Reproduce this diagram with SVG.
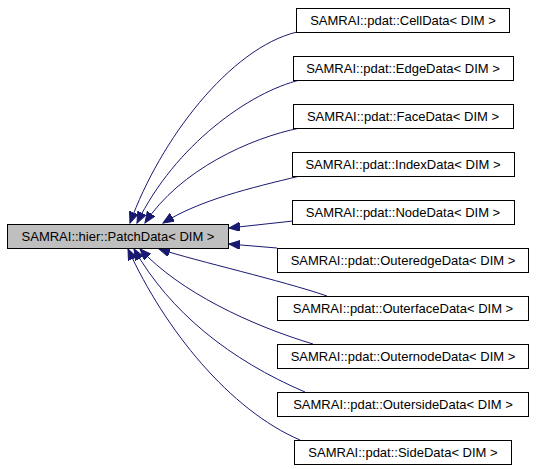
<svg xmlns="http://www.w3.org/2000/svg" width="536" height="469" viewBox="0 0 536 469">
<style>
.box{fill:#ffffff;stroke:#000000;stroke-width:1}
.main{fill:#bfbfbf;stroke:#000000;stroke-width:1}
text{font-family:"Liberation Sans",Arial,sans-serif;font-size:13px;fill:#000000;text-anchor:middle}
.edge{fill:none;stroke:#191970;stroke-width:1}
</style>
<defs>
<marker id="arr" markerUnits="userSpaceOnUse" markerWidth="12" markerHeight="10" refX="11" refY="4.5" orient="auto">
<path d="M0,0 L11,4.5 L0,9 Z" fill="#191970" stroke="#191970" stroke-width="1"/>
</marker>
</defs>
<rect width="536" height="469" fill="#ffffff"/>
<g id="edges">
<path class="edge" marker-end="url(#arr)" d="M297,32 C230,48 160,140 130,223"/>
<path class="edge" marker-end="url(#arr)" d="M300,80 C250,92 175,145 137,223"/>
<path class="edge" marker-end="url(#arr)" d="M300,128 C250,138 180,170 145,223"/>
<path class="edge" marker-end="url(#arr)" d="M300,176 C250,188 200,200 163,223"/>
<path class="edge" marker-end="url(#arr)" d="M293,221 L229,228"/>
<path class="edge" marker-end="url(#arr)" d="M277,248 L229,244"/>
<path class="edge" marker-end="url(#arr)" d="M327,296 C280,280 200,262 159,249"/>
<path class="edge" marker-end="url(#arr)" d="M313,344 C250,325 180,292 140,249"/>
<path class="edge" marker-end="url(#arr)" d="M305,392 C230,360 170,312 134,249"/>
<path class="edge" marker-end="url(#arr)" d="M300,440 C230,410 165,330 128,249"/>
</g>
<g id="PatchData"><rect class="main" x="7.5" y="224.5" width="221" height="24"/><text x="118" y="241">SAMRAI::hier::PatchData&lt; DIM &gt;</text></g>
<g id="CellData"><rect class="box" x="296.5" y="8.5" width="213" height="24"/><text x="403" y="25">SAMRAI::pdat::CellData&lt; DIM &gt;</text></g>
<g id="EdgeData"><rect class="box" x="293.5" y="56.5" width="220" height="24"/><text x="403" y="73">SAMRAI::pdat::EdgeData&lt; DIM &gt;</text></g>
<g id="FaceData"><rect class="box" x="293.5" y="104.5" width="220" height="24"/><text x="403" y="121">SAMRAI::pdat::FaceData&lt; DIM &gt;</text></g>
<g id="IndexData"><rect class="box" x="292.5" y="152.5" width="222" height="24"/><text x="403" y="169">SAMRAI::pdat::IndexData&lt; DIM &gt;</text></g>
<g id="NodeData"><rect class="box" x="292.5" y="200.5" width="222" height="24"/><text x="403" y="217">SAMRAI::pdat::NodeData&lt; DIM &gt;</text></g>
<g id="OuteredgeData"><rect class="box" x="277.5" y="248.5" width="251" height="24"/><text x="403" y="265">SAMRAI::pdat::OuteredgeData&lt; DIM &gt;</text></g>
<g id="OuterfaceData"><rect class="box" x="277.5" y="296.5" width="251" height="24"/><text x="403" y="313">SAMRAI::pdat::OuterfaceData&lt; DIM &gt;</text></g>
<g id="OuternodeData"><rect class="box" x="277.5" y="344.5" width="251" height="24"/><text x="403" y="361">SAMRAI::pdat::OuternodeData&lt; DIM &gt;</text></g>
<g id="OutersideData"><rect class="box" x="277.5" y="392.5" width="251" height="24"/><text x="403" y="409">SAMRAI::pdat::OutersideData&lt; DIM &gt;</text></g>
<g id="SideData"><rect class="box" x="294.5" y="440.5" width="217" height="24"/><text x="403" y="457">SAMRAI::pdat::SideData&lt; DIM &gt;</text></g>
</svg>
